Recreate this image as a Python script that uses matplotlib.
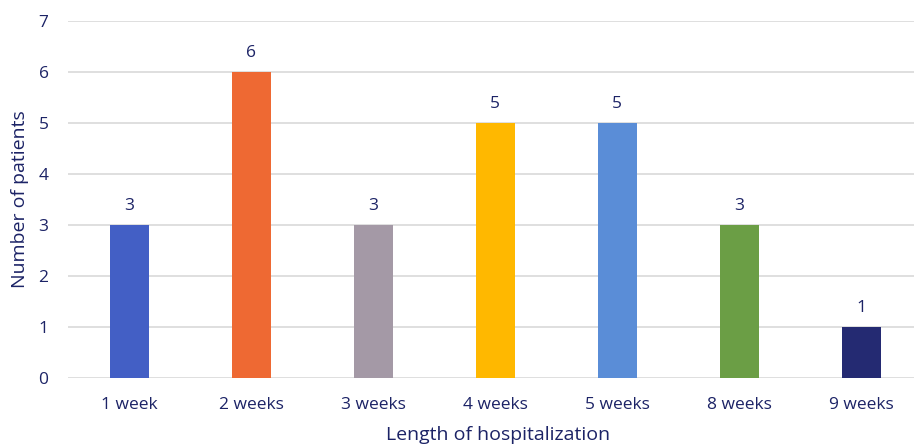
import matplotlib.pyplot as plt

plt.rcParams['font.family'] = ['Open Sans', 'DejaVu Sans']

durees = ['1 week', '2 weeks', '3 weeks', '4 weeks', '5 weeks', '8 weeks', '9 weeks']
patients = [3, 6, 3, 5, 5, 3, 1]
couleurs = ['#435FC5', '#EE6933', '#A499A6', '#FFB800', '#5A8DD7', '#6B9E45', '#242A72']

texte = '#1C2366'

fig = plt.figure(figsize=(9.14, 4.48), dpi=100)
ax = fig.add_axes([68 / 914, 70 / 448, 1 - 68 / 914, (378 - 21) / 448])

barres = ax.bar(range(len(durees)), patients, width=0.32, color=couleurs, zorder=3)
ax.bar_label(barres, padding=8, color=texte, fontsize=12.5)

ax.set_xlim(-0.5, 6.43)
ax.set_ylim(0, 7)
ax.set_yticks(range(8))
ax.set_xticks(range(len(durees)))
ax.set_xticklabels(durees)
ax.grid(axis='y', color='#D9D9D9', linewidth=1.2, zorder=0)
for cote in ax.spines.values():
	cote.set_visible(False)
ax.tick_params(length=0, colors=texte, labelsize=12.5)
ax.tick_params(axis='x', pad=14)
ax.tick_params(axis='y', pad=14)

ax.set_xlabel('Length of hospitalization', color=texte, fontsize=14)
ax.set_ylabel('Number of patients', color=texte, fontsize=14, labelpad=7)
ax.xaxis.set_label_coords(0.508, -0.135)

fig.savefig('out.png', dpi=100)
